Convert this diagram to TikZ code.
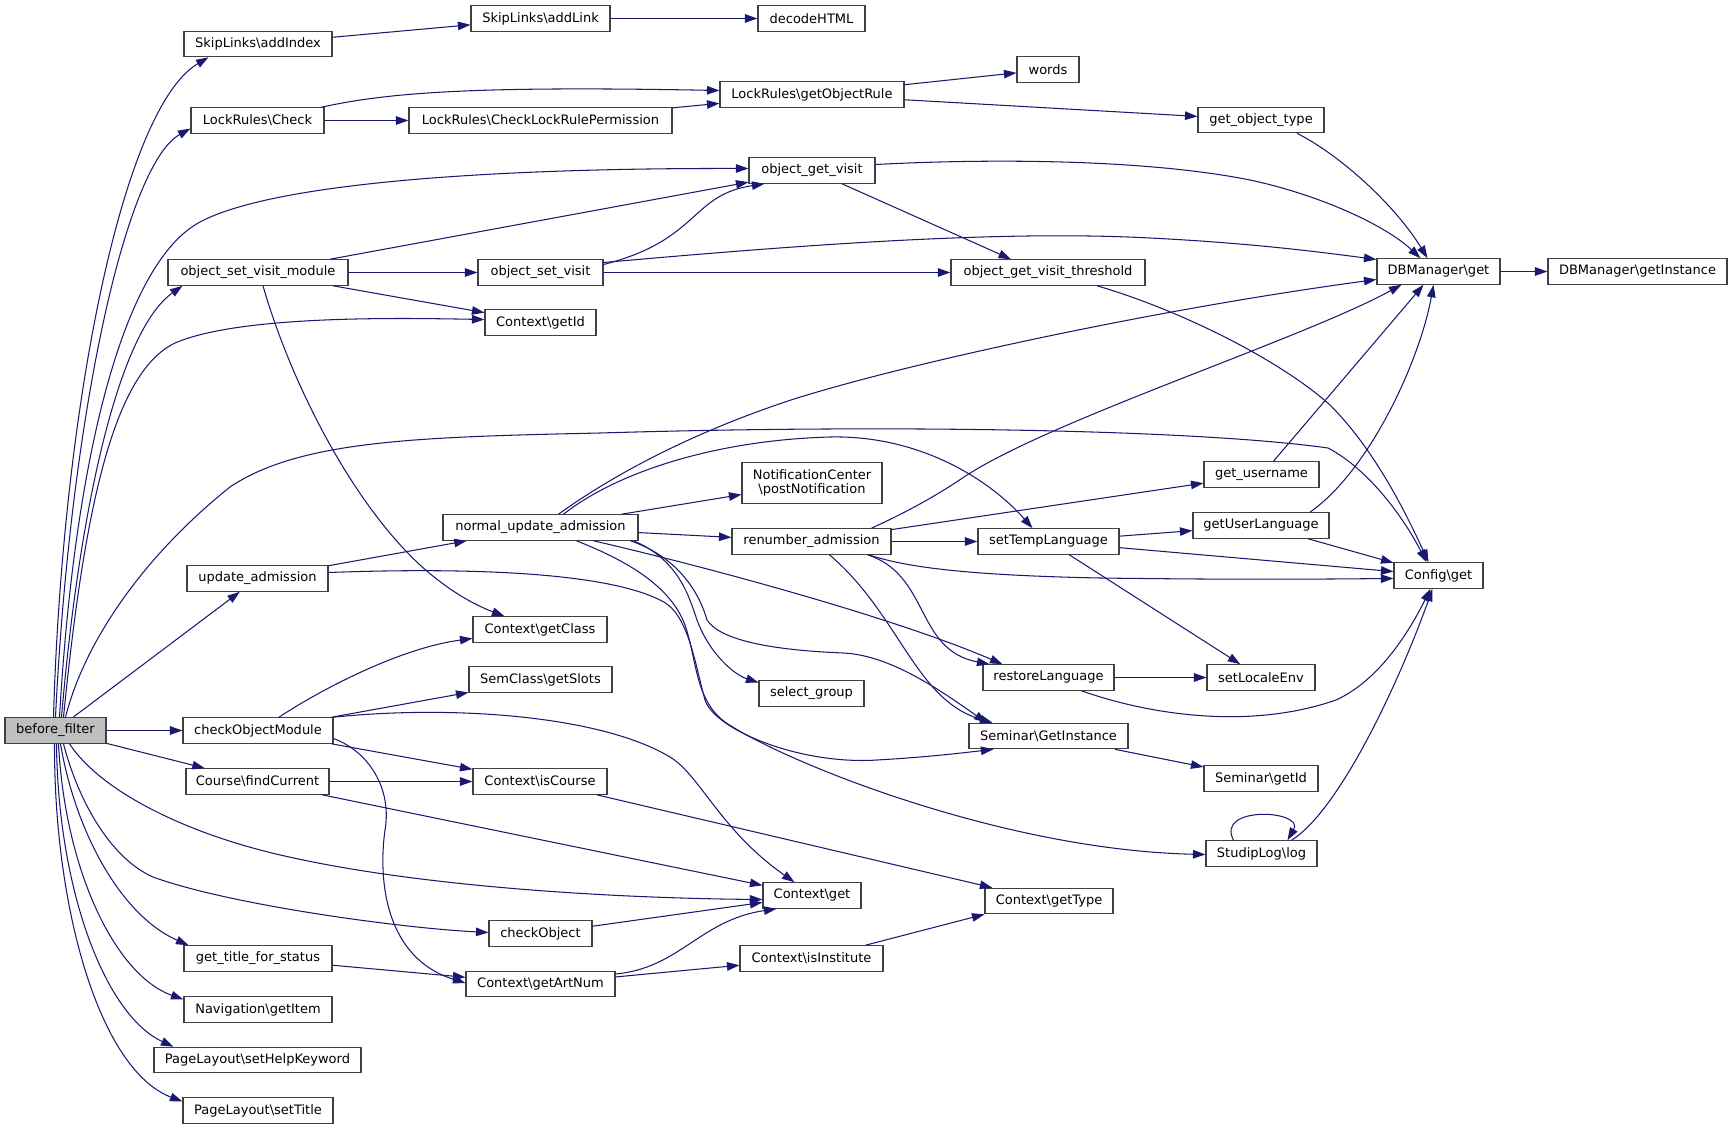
\documentclass[tikz,border=0pt]{standalone}
\usepackage{fontspec}
\setmainfont{DejaVu Sans}
\usetikzlibrary{arrows.meta,calc}
\definecolor{edgeblue}{HTML}{191970}
\definecolor{boxline}{HTML}{404040}
\tikzset{
  box/.style={draw=boxline, line width=1.1pt, fill=white, minimum height=25.5pt,
    inner sep=0pt, align=center, font=\fontsize{13}{14.5}\selectfont},
  startbox/.style={box, fill=gray!50},
  edge/.style={draw=edgeblue, line width=1.05pt,
    -{Triangle[length=12.5pt,width=8.5pt]}, fill=none},
}
\begin{document}
\begin{tikzpicture}[x=1pt,y=-1pt]
\path[use as bounding box] (0,0) rectangle (1732,1129);

% nodes
\node[startbox, minimum width=101pt] (bf) at (55.5,730.5) {before\_filter};
\node[box, minimum width=148pt] (addIndex) at (258,44) {SkipLinks\textbackslash addIndex};
\node[box, minimum width=139pt] (addLink) at (540.5,18.5) {SkipLinks\textbackslash addLink};
\node[box, minimum width=107pt] (decodeHTML) at (811.5,18.5) {decodeHTML};
\node[box, minimum width=133pt] (lrCheck) at (257.5,120.5) {LockRules\textbackslash Check};
\node[box, minimum width=263pt] (lrPerm) at (540.5,120.5) {LockRules\textbackslash CheckLockRulePermission};
\node[box, minimum width=184pt] (getObjRule) at (812,94.5) {LockRules\textbackslash getObjectRule};
\node[box, minimum width=62pt] (words) at (1048,69.5) {words};
\node[box, minimum width=126pt] (getObjType) at (1261,120) {get\_object\_type};
\node[box, minimum width=126pt] (ogv) at (812,170.5) {object\_get\_visit};
\node[box, minimum width=180pt] (osvm) at (258,272.5) {object\_set\_visit\_module};
\node[box, minimum width=125pt] (osv) at (540.5,272.5) {object\_set\_visit};
\node[box, minimum width=194pt] (ogvt) at (1048,272.5) {object\_get\_visit\_threshold};
\node[box, minimum width=123pt] (dbget) at (1438.5,271.5) {DBManager\textbackslash get};
\node[box, minimum width=179pt] (dbinst) at (1637.5,271.5) {DBManager\textbackslash getInstance};
\node[box, minimum width=111pt] (ctxGetId) at (540.5,322.5) {Context\textbackslash getId};
\node[box, minimum width=115pt] (getUsername) at (1261.5,474.5) {get\_username};
\node[box, minimum width=140pt, minimum height=41pt] (notif) at (812,483) {NotificationCenter\\\textbackslash postNotification};
\node[box, minimum width=195pt] (nua) at (540.5,527.5) {normal\_update\_admission};
\node[box, minimum width=136pt] (getUserLang) at (1261,525.5) {getUserLanguage};
\node[box, minimum width=159pt] (renum) at (811.5,541.5) {renumber\_admission};
\node[box, minimum width=141pt] (setTemp) at (1048.5,541.5) {setTempLanguage};
\node[box, minimum width=141pt] (updAdm) at (257.5,578.5) {update\_admission};
\node[box, minimum width=89pt] (configGet) at (1438.5,575.5) {Config\textbackslash get};
\node[box, minimum width=134pt] (ctxGetClass) at (540,629.5) {Context\textbackslash getClass};
\node[box, minimum width=143pt] (semSlots) at (540.5,679.5) {SemClass\textbackslash getSlots};
\node[box, minimum width=131pt] (restoreLang) at (1048.5,677.5) {restoreLanguage};
\node[box, minimum width=108pt] (setLocale) at (1261,677.5) {setLocaleEnv};
\node[box, minimum width=105pt] (selectGroup) at (811.5,693.5) {select\_group};
\node[box, minimum width=150pt] (com) at (258,730.5) {checkObjectModule};
\node[box, minimum width=159pt] (semGetInst) at (1048.5,736) {Seminar\textbackslash GetInstance};
\node[box, minimum width=143pt] (findCurrent) at (257.5,781.5) {Course\textbackslash findCurrent};
\node[box, minimum width=134pt] (isCourse) at (540,781.5) {Context\textbackslash isCourse};
\node[box, minimum width=114pt] (semGetId) at (1261,778.5) {Seminar\textbackslash getId};
\node[box, minimum width=111pt] (studipLog) at (1261.5,853.5) {StudipLog\textbackslash log};
\node[box, minimum width=98pt] (ctxGet) at (812,895.5) {Context\textbackslash get};
\node[box, minimum width=128pt] (getType) at (1049,901) {Context\textbackslash getType};
\node[box, minimum width=103pt] (checkObject) at (540.5,933.5) {checkObject};
\node[box, minimum width=148pt] (gtfs) at (258,958.5) {get\_title\_for\_status};
\node[box, minimum width=143pt] (isInstitute) at (811.5,958.5) {Context\textbackslash isInstitute};
\node[box, minimum width=149pt] (artNum) at (540.5,984) {Context\textbackslash getArtNum};
\node[box, minimum width=148pt] (navItem) at (258,1009.5) {Navigation\textbackslash getItem};
\node[box, minimum width=207pt] (setHelp) at (257.5,1060) {PageLayout\textbackslash setHelpKeyword};
\node[box, minimum width=150pt] (setTitle) at (258,1110.5) {PageLayout\textbackslash setTitle};

% edges from before_filter
\draw[edge] ($(bf.north)+(-2,0)$) .. controls (62,420) and (120,110) .. ($(addIndex.south west)+(25,0)$);
\draw[edge] ($(bf.north)+(0,0)$) .. controls (70,420) and (125,165) .. ($(lrCheck.west)+(0,8)$);
\draw[edge] ($(bf.north)+(4,0)$) .. controls (75,450) and (125,262) .. (200,222) .. controls (275,182) and (500,168) .. ($(ogv.west)+(0,-2)$);
\draw[edge] ($(bf.north)+(6,0)$) .. controls (80,500) and (120,330) .. ($(osvm.south west)+(15,0)$);
\draw[edge] ($(bf.north)+(8,0)$) .. controls (85,500) and (115,372) .. (175,343) .. controls (240,315) and (400,318) .. ($(ctxGetId.west)+(0,-3)$);
\draw[edge] ($(bf.north)+(10,0)$) .. controls (85,640) and (145,555) .. (230,487) .. controls (300,440) and (420,437) .. (600,433) .. controls (900,424) and (1200,430) .. (1328,448) .. controls (1370,470) and (1405,520) .. ($(configGet.north)+(-12,0)$);
\draw[edge] (bf) -- (updAdm);
\draw[edge] (bf) -- (com);
\draw[edge] (bf) -- (findCurrent);
\draw[edge] ($(bf.south)+(14,0)$) .. controls (100,790) and (180,830) .. (268,852) .. controls (400,885) and (600,898) .. ($(ctxGet.west)+(0,4)$);
\draw[edge] ($(bf.south)+(8,0)$) .. controls (78,800) and (110,858) .. (153,877) .. controls (230,905) and (400,928) .. ($(checkObject.west)+(0,-1)$);
\draw[edge] ($(bf.south)+(5,0)$) .. controls (75,830) and (120,915) .. ($(gtfs.north west)+(5,0)$);
\draw[edge] ($(bf.south)+(3,0)$) .. controls (65,870) and (115,975) .. ($(navItem.west)+(0,-10)$);
\draw[edge] ($(bf.south)+(1,0)$) .. controls (58,890) and (105,1015) .. ($(setHelp.north west)+(20,0)$);
\draw[edge] ($(bf.south)+(-1,0)$) .. controls (54,910) and (100,1070) .. ($(setTitle.west)+(0,-9)$);

% top region
\draw[edge] (addIndex) -- (addLink);
\draw[edge] (addLink) -- (decodeHTML);
\draw[edge] ($(lrCheck.north east)+(-3,0)$) .. controls (390,92) and (480,86) .. ($(getObjRule.west)+(0,-4)$);
\draw[edge] (lrCheck) -- (lrPerm);
\draw[edge] (lrPerm) -- (getObjRule);
\draw[edge] (getObjRule) -- (words);
\draw[edge] (getObjRule) -- (getObjType);
\draw[edge] ($(getObjType.south)+(36,0)$) .. controls (1340,155) and (1395,205) .. ($(dbget.north)+(-11,0)$);
\draw[edge] ($(ogv.east)+(0,-6)$) .. controls (1000,158) and (1150,160) .. (1250,180) .. controls (1320,195) and (1385,225) .. ($(dbget.north)+(-18,0)$);
\draw[edge] ($(ogv.south)+(30,0)$) -- ($(ogvt.north)+(-37,0)$);
\draw[edge] (osvm) -- (ogv);
\draw[edge] (osvm) -- (osv);
\draw[edge] (osvm) -- (ctxGetId);
\draw[edge] ($(osvm.south)+(5,0)$) .. controls (290,380) and (350,500) .. (420,565) .. controls (450,592) and (475,605) .. ($(ctxGetClass.north west)+(32,0)$);
\draw[edge] ($(osv.east)+(0,-8)$) .. controls (700,240) and (690,195) .. ($(ogv.south west)+(16,0)$);
\draw[edge] ($(osv.east)+(0,-10)$) .. controls (800,245) and (1000,230) .. (1150,238) .. controls (1250,243) and (1320,252) .. ($(dbget.west)+(0,-12)$);
\draw[edge] (osv) -- (ogvt);
\draw[edge] ($(ogvt.south)+(49,0)$) .. controls (1180,310) and (1280,360) .. (1330,405) .. controls (1370,445) and (1400,500) .. ($(configGet.north)+(-10,0)$);
\draw[edge] (dbget) -- (dbinst);

% normal_update_admission
\draw[edge] ($(nua.north)+(18,0)$) .. controls (620,470) and (700,430) .. (791,400) .. controls (900,365) and (1150,310) .. ($(dbget.west)+(0,8)$);
\draw[edge] ($(nua.north)+(23,0)$) .. controls (620,470) and (720,440) .. (830,437) .. controls (920,435) and (990,480) .. ($(setTemp.north)+(-16,0)$);
\draw[edge] (nua) -- (notif);
\draw[edge] (nua) -- (renum);
\draw[edge] ($(nua.south)+(53,0)$) .. controls (720,570) and (900,620) .. ($(restoreLang.north west)+(20,0)$);
\draw[edge] ($(nua.south)+(93,0)$) .. controls (680,560) and (690,600) .. (697,620) .. controls (710,655) and (735,675) .. ($(selectGroup.west)+(0,-11)$);
\draw[edge] ($(nua.south)+(90,0)$) .. controls (680,558) and (700,595) .. (707,620) .. controls (720,640) and (770,650) .. (843,653) .. controls (890,655) and (940,690) .. ($(semGetInst.north west)+(18,0)$);
\draw[edge] ($(nua.south)+(36,0)$) .. controls (625,560) and (670,585) .. (685,625) .. controls (697,660) and (695,700) .. (725,722) .. controls (780,760) and (1000,850) .. ($(studipLog.west)+(0,1)$);

% update_admission
\draw[edge] (updAdm) -- (nua);
\draw[edge] ($(updAdm.east)+(0,-6)$) .. controls (450,568) and (600,570) .. (660,600) .. controls (688,612) and (694,660) .. (705,700) .. controls (715,730) and (800,765) .. (877,760) .. controls (930,757) and (970,752) .. ($(semGetInst.south west)+(25,0)$);

% renumber_admission
\draw[edge] (renum) -- (getUsername);
\draw[edge] (renum) -- (setTemp);
\draw[edge] ($(renum.south east)+(-23,0)$) .. controls (900,565) and (950,575) .. (1100,578) .. controls (1250,580) and (1330,579) .. ($(configGet.west)+(0,3)$);
\draw[edge] ($(renum.north)+(60,0)$) .. controls (900,515) and (930,500) .. (964,477) .. controls (1050,420) and (1300,340) .. ($(dbget.south west)+(25,0)$);
\draw[edge] ($(renum.south east)+(-24,0)$) .. controls (930,575) and (915,650) .. ($(restoreLang.north west)+(7,0)$);
\draw[edge] ($(renum.south)+(18,0)$) .. controls (900,615) and (915,700) .. ($(semGetInst.north west)+(24,0)$);

% language helpers
\draw[edge] (setTemp) -- (getUserLang);
\draw[edge] (setTemp) -- (configGet);
\draw[edge] (setTemp) -- (setLocale);
\draw[edge] ($(getUsername.north)+(12,0)$) -- ($(dbget.south)+(-15,0)$);
\draw[edge] ($(getUserLang.north)+(49,0)$) .. controls (1370,470) and (1420,360) .. ($(dbget.south)+(-5,0)$);
\draw[edge] (getUserLang) -- (configGet);
\draw[edge] (restoreLang) -- (setLocale);
\draw[edge] ($(restoreLang.south)+(33,0)$) .. controls (1150,715) and (1250,730) .. (1336,700) .. controls (1380,680) and (1410,630) .. ($(configGet.south)+(-8,0)$);
\draw[edge] ($(studipLog.north east)+(-26,0)$) .. controls (1340,810) and (1400,680) .. ($(configGet.south)+(-6,0)$);
\draw[edge] ($(studipLog.north)+(-28,0)$) .. controls (1215,805) and (1305,810) .. ($(studipLog.north)+(26,0)$);
\draw[edge] (semGetInst) -- (semGetId);

% checkObjectModule and context
\draw[edge] ($(com.north)+(21,0)$) .. controls (320,690) and (400,648) .. ($(ctxGetClass.west)+(0,9)$);
\draw[edge] (com) -- (semSlots);
\draw[edge] ($(com.north east)$) .. controls (450,705) and (600,715) .. (670,757) .. controls (700,775) and (720,830) .. ($(ctxGet.north west)+(32,0)$);
\draw[edge] (com) -- (isCourse);
\draw[edge] ($(com.east)+(0,8)$) .. controls (370,752) and (392,790) .. (385,830) .. controls (378,880) and (385,958) .. ($(artNum.west)+(0,-1)$);
\draw[edge] (findCurrent) -- (isCourse);
\draw[edge] (findCurrent) -- (ctxGet);
\draw[edge] (isCourse) -- (getType);
\draw[edge] (checkObject) -- (ctxGet);
\draw[edge] (gtfs) -- (artNum);
\draw[edge] ($(artNum.east)+(0,-10)$) .. controls (680,968) and (700,920) .. ($(ctxGet.south west)+(14,0)$);
\draw[edge] (artNum) -- (isInstitute);
\draw[edge] ($(isInstitute.north)+(54,0)$) -- (getType.south west);
\end{tikzpicture}
\end{document}
